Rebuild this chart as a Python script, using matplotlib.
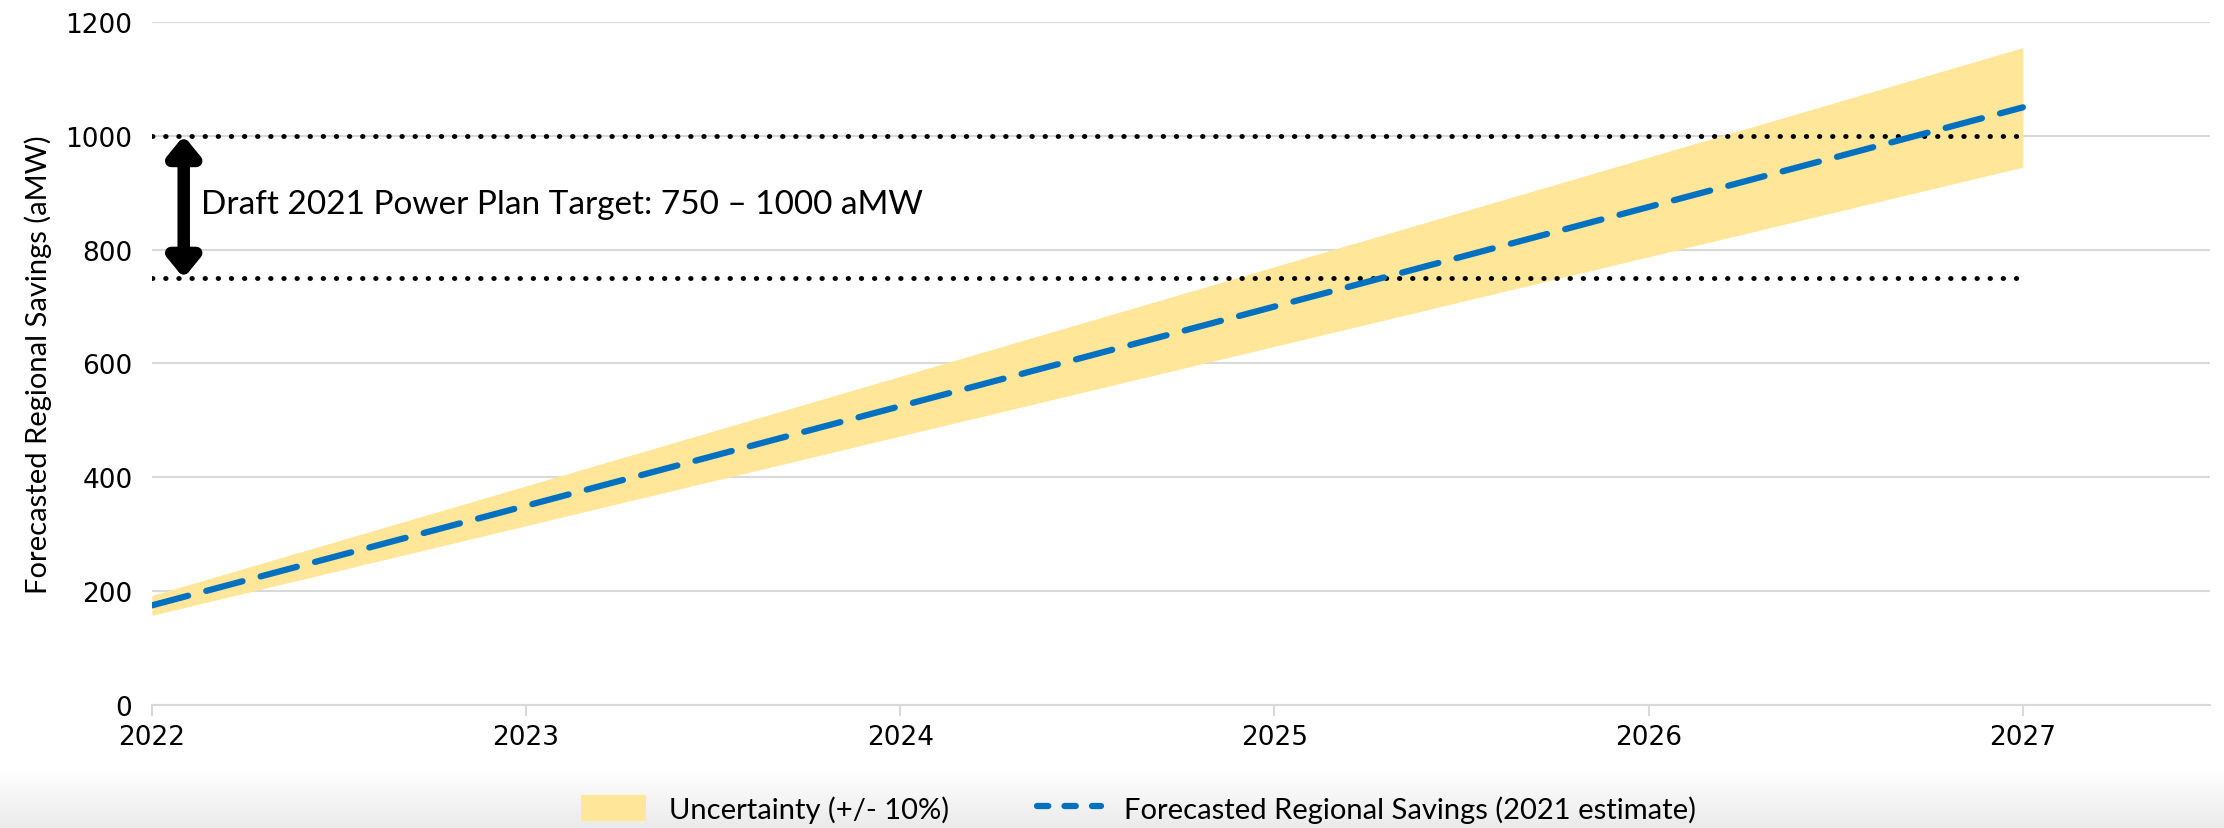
import matplotlib.pyplot as plt
import numpy as np
from matplotlib.lines import Line2D
from matplotlib.patches import Patch

# data
years = [2022, 2023, 2024, 2025, 2026, 2027]
forecast = [175, 350, 525, 700, 875, 1050]
band_low = [157.5, 315, 472.5, 630, 787.5, 945]
band_high = [192.5, 385, 577.5, 770, 962.5, 1155]
target_low = 750
target_high = 1000
yticks = [0, 200, 400, 600, 800, 1000, 1200]

fig = plt.figure(figsize=(22.24, 8.29), dpi=100)

# light gray strip behind the legend
bg = fig.add_axes([0, 0, 1, 0.07], zorder=-5)
shade = np.linspace(1.0, 0.92, 50)
grad = np.stack([shade, shade, shade], axis=-1).reshape(-1, 1, 3)
bg.imshow(grad, aspect="auto", extent=[0, 1, 0, 1])
bg.axis("off")

ax = fig.add_axes([0.0683, 0.1484, 0.9254, 0.8239])

ax.fill_between(years, band_low, band_high, color="#ffe699", linewidth=0, zorder=2)
ax.plot(years, forecast, color="#0070c0", linewidth=4.5, dashes=(6, 3),
        dash_capstyle="round", zorder=4)

for v in [target_low, target_high]:
    ax.plot([2022, 2027], [v, v], color="black", linewidth=3.5,
            linestyle=(0, (0.1, 2.6)), dash_capstyle="round", zorder=3)

ax.annotate("", xy=(2022.085, target_high), xytext=(2022.085, target_low),
            arrowprops=dict(arrowstyle="<|-|>,head_length=1.1,head_width=0.9",
                            color="black", lw=9, shrinkA=0, shrinkB=0), zorder=5)
ax.text(2022.13, 880, "Draft 2021 Power Plan Target: 750 – 1000 aMW",
        fontsize=24, family="Lato", va="center", ha="left", zorder=6)

ax.set_xlim(2022, 2027.5)
ax.set_ylim(0, 1200)
ax.set_xticks(years)
ax.set_yticks(yticks)
ax.tick_params(axis="y", length=0, labelsize=19, pad=14)
ax.tick_params(axis="x", length=8, width=1.5, color="#d9d9d9", labelsize=19, pad=6)
ax.grid(axis="y", color="#d9d9d9", linewidth=1.5, zorder=0)
ax.set_axisbelow(True)
for s in ["top", "right", "left"]:
    ax.spines[s].set_visible(False)
ax.spines["bottom"].set_color("#d9d9d9")
ax.spines["bottom"].set_linewidth(1.5)

ax.set_ylabel("Forecasted Regional Savings (aMW)", fontsize=21, family="Lato", labelpad=10)

handles = [Patch(facecolor="#ffe699", edgecolor="none"),
           Line2D([0], [0], color="#0070c0", linewidth=4.5, dashes=(1.8, 2.6), dash_capstyle="round")]
labels = ["Uncertainty (+/- 10%)", "Forecasted Regional Savings (2021 estimate)"]
fig.legend(handles, labels, loc="center", bbox_to_anchor=(0.512, 0.023), ncol=2,
           frameon=False, prop={"family": "Lato", "size": 21}, columnspacing=3,
           handlelength=2.2, handleheight=1.0)

fig.savefig("out.png", dpi=100)
